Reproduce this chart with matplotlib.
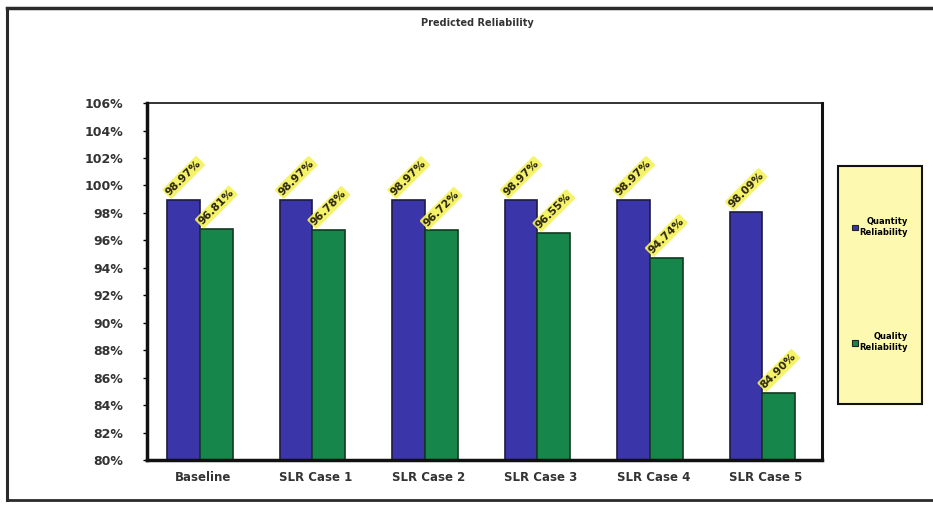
import matplotlib
matplotlib.use("Agg")
import matplotlib.pyplot as plt
from matplotlib.patches import Rectangle, Patch
from matplotlib.lines import Line2D
from matplotlib.ticker import FuncFormatter, MultipleLocator
import numpy as np

plt.rcParams["font.family"] = ["Liberation Sans Narrow", "DejaVu Sans"]
plt.rcParams["font.weight"] = "bold"

cases = ["Baseline", "SLR Case 1", "SLR Case 2", "SLR Case 3", "SLR Case 4", "SLR Case 5"]
quantity = [98.97, 98.97, 98.97, 98.97, 98.97, 98.09]
quality = [96.81, 96.78, 96.72, 96.55, 94.74, 84.90]

blue = "#3a35a8"
green = "#17864a"
hilite = "#f4f25a"

fig = plt.figure(figsize=(9.33, 5.08), dpi=100)
ax = fig.add_axes([0.1576, 0.0945, 0.7235, 0.7025])

x = np.arange(len(cases))
w = 0.29
b1 = ax.bar(x - w / 2 - 0.03, quantity, w, color=blue, edgecolor="#1c1c40", linewidth=1.2)
b2 = ax.bar(x + w / 2 - 0.03, quality, w, color=green, edgecolor="#103a20", linewidth=1.2)

# rotated value labels with a yellow highlight
for bars, vals in ((b1, quantity), (b2, quality)):
    for r, v in zip(bars, vals):
        ax.annotate(f"{v:.2f}%", (r.get_x() + r.get_width() / 2, v),
                    xytext=(0, 16), textcoords="offset points",
                    ha="center", va="center", rotation=45,
                    fontsize=7.8, fontweight="bold", color="#2a2410",
                    bbox=dict(boxstyle="round,pad=0.15", fc=hilite, ec="none", alpha=0.9))

ax.set_ylim(80, 106)
ax.set_xlim(-0.5, len(cases) - 0.5)
ax.yaxis.set_major_locator(MultipleLocator(2))
ax.yaxis.set_major_formatter(FuncFormatter(lambda v, p: f"{v:.0f}%"))
ax.set_xticks(x)
ax.set_xticklabels(cases)
ax.tick_params(axis="y", labelsize=9, length=3, width=1, pad=14, labelcolor="#333333")
ax.tick_params(axis="x", labelsize=8.5, length=0, pad=8, labelcolor="#333333")
for lab in ax.get_xticklabels() + ax.get_yticklabels():
    lab.set_fontweight("bold")

for side, lw in (("left", 2.5), ("bottom", 2.5), ("right", 2.2), ("top", 1.2)):
    ax.spines[side].set_linewidth(lw)
    ax.spines[side].set_color("#111111")

fig.text(0.512, 0.955, "Predicted Reliability", ha="center", va="center",
         fontsize=7, fontweight="bold", color="#333333")

# legend panel
fig.add_artist(Rectangle((0.898, 0.205), 0.09, 0.468, transform=fig.transFigure,
                         facecolor="#fdf9b0", edgecolor="#111111", linewidth=1.5))
handles = [Patch(facecolor=blue, edgecolor="#222222", linewidth=0.8),
           Patch(facecolor=green, edgecolor="#222222", linewidth=0.8)]
leg = fig.legend(handles, ["Quantity\nReliability", "Quality\nReliability"],
                 loc="center", bbox_to_anchor=(0.943, 0.44), frameon=False,
                 fontsize=6, handlelength=0.7, handleheight=0.7, handletextpad=0.2,
                 labelspacing=11.5)
for t in leg.get_texts():
    t.set_multialignment("right")
    t.set_fontweight("bold")

# outer frame of the chart sheet
fig.add_artist(Line2D([0.0075, 1.0], [0.984, 0.984], transform=fig.transFigure,
                      color="#2a2a2a", linewidth=2.5))
fig.add_artist(Line2D([0.0075, 0.0075], [0.016, 0.984], transform=fig.transFigure,
                      color="#2a2a2a", linewidth=2.2))
fig.add_artist(Line2D([0.0075, 1.0], [0.016, 0.016], transform=fig.transFigure,
                      color="#2a2a2a", linewidth=2.0))

fig.savefig("out.png", dpi=100)
